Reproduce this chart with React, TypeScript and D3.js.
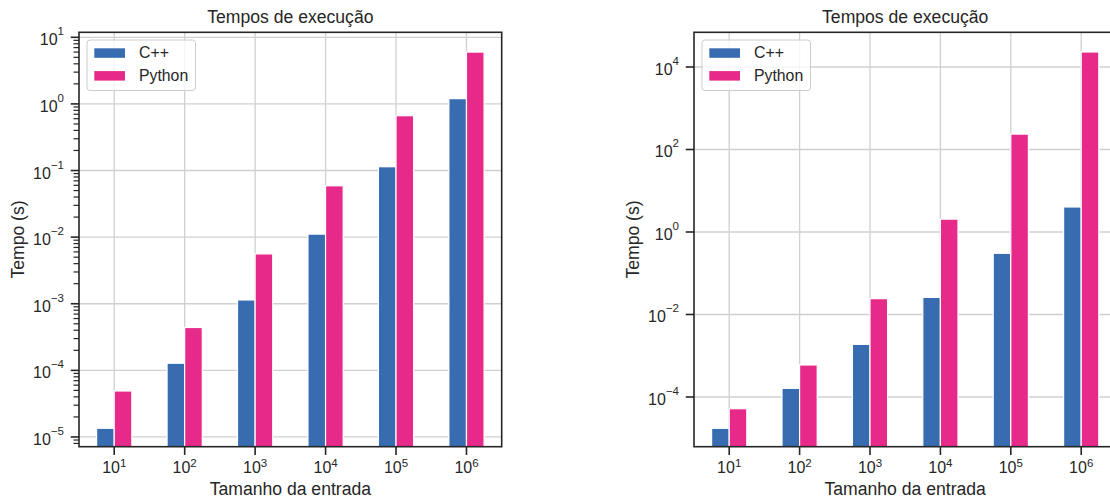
import React, { useEffect, useRef } from "react";
import * as d3 from "d3";

// input sizes are 10^1 .. 10^6
const sizeExponents = [1, 2, 3, 4, 5, 6];
const seriesNames = ["C++", "Python"];
const seriesColors = ["#386cb0", "#e7298a"];

// left panel (seconds)
const cppLeft = [1.35e-5, 1.28e-4, 1.14e-3, 0.0111, 0.114, 1.2];
const pythonLeft = [4.9e-5, 4.4e-4, 5.6e-3, 0.059, 0.665, 6.0];

// right panel (seconds)
const cppRight = [1.74e-5, 1.62e-4, 1.89e-3, 0.026, 0.304, 4.04];
const pythonRight = [5.2e-5, 5.97e-4, 0.0242, 2.05, 236, 23100];

// log10 exponents of the y ticks and axis limits
const yTicksLeft = [-5, -4, -3, -2, -1, 0, 1];
const yTicksRight = [-4, -2, 0, 2, 4];
const yLimLeft = [-5.146, 1.075];
const yLimRight = [-5.205, 4.841];

const title = "Tempos de execução";
const xTitle = "Tamanho da entrada";
const yTitle = "Tempo (s)";

const W = 1110;
const H = 499;
const FONT = "'Liberation Sans', Arial, sans-serif";
const INK = "#262626";
const GRID = "#d0d0d0";

const sup = (e: number) => (e < 0 ? "\u2212" + -e : String(e));

function drawPanel(svg: any, opts: any) {
  const { left, right, top, bottom, data, yTicks, yLim, minor } = opts;

  const x = d3.scaleLinear().domain([-0.5, sizeExponents.length - 0.5]).range([left, right]);
  const y = d3
    .scaleLog()
    .domain([Math.pow(10, yLim[0]), Math.pow(10, yLim[1])])
    .range([bottom, top]);
  const unit = x(1) - x(0);
  const barW = unit * 0.25;

  const g = svg.append("g");

  // grid
  g.selectAll("line.vgrid")
    .data(sizeExponents)
    .join("line")
    .attr("x1", (_d: number, i: number) => x(i))
    .attr("x2", (_d: number, i: number) => x(i))
    .attr("y1", top)
    .attr("y2", bottom)
    .attr("stroke", GRID)
    .attr("stroke-width", 1.3);

  g.selectAll("line.hgrid")
    .data(yTicks)
    .join("line")
    .attr("x1", left)
    .attr("x2", right)
    .attr("y1", (e: number) => y(Math.pow(10, e)))
    .attr("y2", (e: number) => y(Math.pow(10, e)))
    .attr("stroke", GRID)
    .attr("stroke-width", 1.3);

  // bars
  data.forEach((values: number[], s: number) => {
    g.append("g")
      .selectAll("rect")
      .data(values)
      .join("rect")
      .attr("x", (_d: number, i: number) => x(i) - barW + s * barW)
      .attr("width", barW)
      .attr("y", (d: number) => y(d))
      .attr("height", (d: number) => bottom - y(d))
      .attr("fill", seriesColors[s])
      .attr("stroke", "white")
      .attr("stroke-width", 1.2);
  });

  // spines
  g.append("rect")
    .attr("x", left)
    .attr("y", top)
    .attr("width", right - left)
    .attr("height", bottom - top)
    .attr("fill", "none")
    .attr("stroke", INK)
    .attr("stroke-width", 1.6);

  // y ticks
  const yt = g.selectAll("g.ytick").data(yTicks).join("g")
    .attr("transform", (e: number) => `translate(0,${y(Math.pow(10, e))})`);
  yt.append("line")
    .attr("x1", left - 8.25)
    .attr("x2", left)
    .attr("stroke", INK)
    .attr("stroke-width", 1.6);
  const ylab = yt.append("text")
    .attr("text-anchor", "end")
    .attr("x", left - 15)
    .attr("y", 8)
    .attr("fill", INK)
    .style("font-family", FONT)
    .style("font-size", "16px");
  ylab.append("tspan").text("10");
  ylab.append("tspan").attr("dy", -10).style("font-size", "11.5px").text((e: number) => sup(e));

  if (minor) {
    const minors: number[] = [];
    for (let e = Math.floor(yLim[0]); e < Math.ceil(yLim[1]); e++) {
      for (let m = 2; m <= 9; m++) {
        const v = m * Math.pow(10, e);
        if (Math.log10(v) >= yLim[0] && Math.log10(v) <= yLim[1]) minors.push(v);
      }
    }
    g.selectAll("line.minor")
      .data(minors)
      .join("line")
      .attr("x1", left - 5.5)
      .attr("x2", left)
      .attr("y1", (v: number) => y(v))
      .attr("y2", (v: number) => y(v))
      .attr("stroke", INK)
      .attr("stroke-width", 1.2);
  }

  // x ticks
  const xt = g.selectAll("g.xtick").data(sizeExponents).join("g")
    .attr("transform", (_d: number, i: number) => `translate(${x(i)},0)`);
  xt.append("line")
    .attr("y1", bottom)
    .attr("y2", bottom + 8.25)
    .attr("stroke", INK)
    .attr("stroke-width", 1.6);
  const xlab = xt.append("text")
    .attr("text-anchor", "middle")
    .attr("y", 473)
    .attr("fill", INK)
    .style("font-family", FONT)
    .style("font-size", "16px");
  xlab.append("tspan").text("10");
  xlab.append("tspan").attr("dy", -6.5).style("font-size", "11.5px").text((e: number) => sup(e));

  // titles
  const cx = (left + right) / 2;
  g.append("text")
    .attr("x", cx)
    .attr("y", 23)
    .attr("text-anchor", "middle")
    .attr("fill", INK)
    .style("font-family", FONT)
    .style("font-size", "17.6px")
    .text(title);

  g.append("text")
    .attr("x", cx)
    .attr("y", 495)
    .attr("text-anchor", "middle")
    .attr("fill", INK)
    .style("font-family", FONT)
    .style("font-size", "17.6px")
    .text(xTitle);

  g.append("text")
    .attr("transform", `translate(${opts.yTitleX},${(top + bottom) / 2}) rotate(-90)`)
    .attr("text-anchor", "middle")
    .attr("fill", INK)
    .style("font-family", FONT)
    .style("font-size", "17.6px")
    .text(yTitle);

  // legend
  const lg = g.append("g").attr("transform", `translate(${left},0)`);
  lg.append("rect")
    .attr("x", 8)
    .attr("y", 40)
    .attr("width", 108.5)
    .attr("height", 50.5)
    .attr("rx", 3)
    .attr("fill", "white")
    .attr("fill-opacity", 0.8)
    .attr("stroke", "#cccccc")
    .attr("stroke-width", 1);
  seriesNames.forEach((name, s) => {
    lg.append("rect")
      .attr("x", 15.3)
      .attr("y", 48.3 + s * 22.8)
      .attr("width", 30.7)
      .attr("height", 9.5)
      .attr("fill", seriesColors[s]);
    lg.append("text")
      .attr("x", 60)
      .attr("y", 58.3 + s * 22.7)
      .attr("fill", INK)
      .style("font-family", FONT)
      .style("font-size", "15.8px")
      .text(name);
  });
}

export default function App() {
  const ref = useRef<SVGSVGElement>(null);

  useEffect(() => {
    const svg = d3.select(ref.current);
    svg.selectAll("*").remove();
    svg.append("rect").attr("width", W).attr("height", H).attr("fill", "white");

    drawPanel(svg, {
      left: 79,
      right: 501.7,
      top: 32.3,
      bottom: 446.7,
      data: [cppLeft, pythonLeft],
      yTicks: yTicksLeft,
      yLim: yLimLeft,
      minor: true,
      yTitleX: 23.5,
    });

    drawPanel(svg, {
      left: 694,
      right: 1116.4,
      top: 32.3,
      bottom: 446.7,
      data: [cppRight, pythonRight],
      yTicks: yTicksRight,
      yLim: yLimRight,
      minor: false,
      yTitleX: 638.5,
    });
  }, []);

  return (
    <svg
      ref={ref}
      width={W}
      height={H}
      style={{ position: "absolute", left: 0, top: 0, display: "block" }}
    />
  );
}
